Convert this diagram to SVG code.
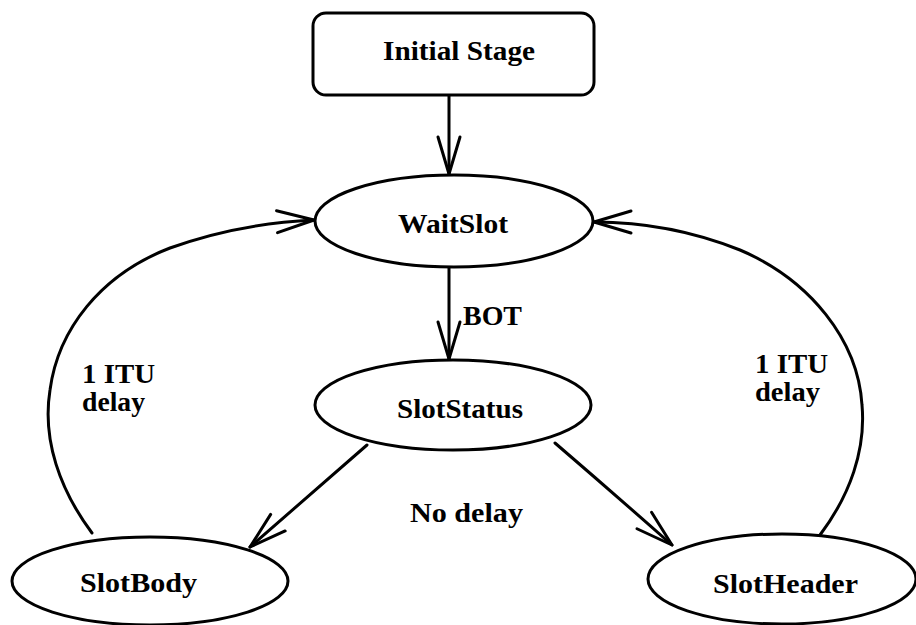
<svg xmlns="http://www.w3.org/2000/svg" width="916" height="625" viewBox="0 0 916 625">
  <style>
    .node { fill: #fff; stroke: #000; stroke-width: 3; }
    .label { font-family: "Liberation Serif", "Times New Roman", serif; font-weight: bold; font-size: 27.5px; fill: #000; }
    .mid { text-anchor: middle; }
    .edge { fill: none; stroke: #000; stroke-width: 3; stroke-linecap: round; marker-end: url(#vee); }
  </style>
  <defs>
    <marker id="vee" viewBox="-40 -15 42 30" markerWidth="42" markerHeight="30" refX="0" refY="0" orient="auto" markerUnits="userSpaceOnUse" overflow="visible">
      <path d="M-37,-11 L0,0 L-37,11" fill="none" stroke="#000" stroke-width="3" stroke-linecap="round" stroke-linejoin="round"/>
    </marker>
  </defs>
  <rect width="916" height="625" fill="#fff"/>

  <g id="connectors">
    <path class="edge" d="M449,95 L449,174"/>
    <path class="edge" d="M449,268 L449,359"/>
    <path class="edge" d="M367,445 L250,547"/>
    <path class="edge" d="M555,443 Q612,492 672,545"/>
    <path class="edge" d="M92,533 C60,490 42,440 50,390 C58,330 100,275 170,248 C220,230 270,222 314,220"/>
    <path class="edge" d="M820,535 C850,495 866,450 862,405 C858,340 810,280 740,250 C690,230 640,222 594,222"/>
  </g>

  <g id="edge-labels">
    <text class="label" x="463" y="325" textLength="59" lengthAdjust="spacingAndGlyphs">BOT</text>
    <text class="label" x="82" y="383" textLength="73" lengthAdjust="spacingAndGlyphs">1 ITU</text>
    <text class="label" x="82" y="411" textLength="63" lengthAdjust="spacingAndGlyphs">delay</text>
    <text class="label" x="755" y="373" textLength="73" lengthAdjust="spacingAndGlyphs">1 ITU</text>
    <text class="label" x="755" y="401" textLength="65" lengthAdjust="spacingAndGlyphs">delay</text>
    <text class="label" x="410" y="522" textLength="113" lengthAdjust="spacingAndGlyphs">No delay</text>
  </g>

  <g id="initial-stage">
    <rect class="node" x="313" y="13" width="281" height="82" rx="13" ry="13"/>
    <text class="label" x="383" y="60" textLength="152" lengthAdjust="spacingAndGlyphs">Initial Stage</text>
  </g>

  <g id="wait-slot">
    <ellipse class="node" cx="454" cy="221" rx="139" ry="46"/>
    <text class="label" x="398" y="233" textLength="110" lengthAdjust="spacingAndGlyphs">WaitSlot</text>
  </g>

  <g id="slot-status">
    <ellipse class="node" cx="453" cy="405" rx="138" ry="45"/>
    <text class="label" x="397" y="418" textLength="126" lengthAdjust="spacingAndGlyphs">SlotStatus</text>
  </g>

  <g id="slot-body">
    <ellipse class="node" cx="150" cy="581" rx="138" ry="44"/>
    <text class="label" x="80" y="592" textLength="117" lengthAdjust="spacingAndGlyphs">SlotBody</text>
  </g>

  <g id="slot-header">
    <ellipse class="node" cx="782" cy="579" rx="134" ry="45"/>
    <text class="label" x="713" y="593" textLength="145" lengthAdjust="spacingAndGlyphs">SlotHeader</text>
  </g>
</svg>
